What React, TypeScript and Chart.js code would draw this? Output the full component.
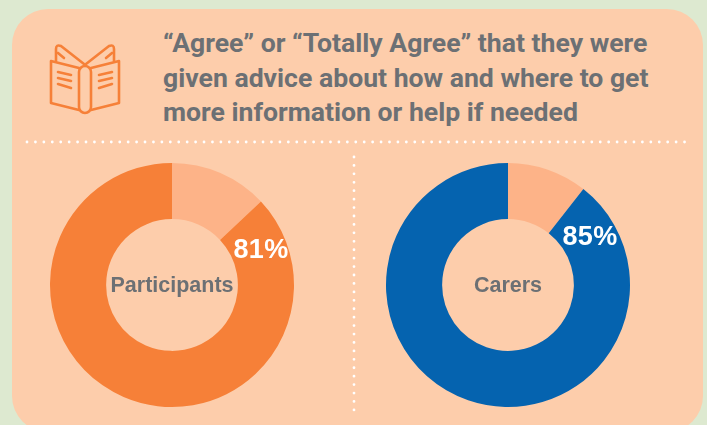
import React, { useEffect, useRef } from "react";
import { Chart, registerables } from "chart.js";

Chart.register(...registerables);

const titleLines = [
  "“Agree” or “Totally Agree” that they were",
  "given advice about how and where to get",
  "more information or help if needed",
];
const categories = ["Other", "Agree or Totally Agree"];
const participantsValues = [13, 87];
const carersValues = [10.6, 89.4];
const participantsColors = ["#FDB388", "#F68038"];
const carersColors = ["#FDB388", "#0563AF"];

const GREY = "#6C7074";

function makeLabelPlugin(center: string, pct: string, dx: number, dy: number) {
  return {
    id: "labels",
    afterDatasetsDraw(chart: any) {
      const meta = chart.getDatasetMeta(0).data[0];
      const { x, y } = meta;
      const ctx = chart.ctx;
      ctx.save();
      ctx.textAlign = "center";
      ctx.textBaseline = "middle";
      ctx.fillStyle = GREY;
      ctx.font = 'bold 21.5px "Liberation Sans"';
      ctx.fillText(center, x, y + 1);
      ctx.fillStyle = "#FFFFFF";
      ctx.font = 'bold 27px "Liberation Sans"';
      (ctx as any).letterSpacing = "0.3px";
      ctx.fillText(pct, x + dx, y + dy);
      ctx.restore();
    },
  };
}

function Donut({ left, values, colors, center, pct, dx, dy }: any) {
  const ref = useRef<HTMLCanvasElement>(null);
  useEffect(() => {
    const chart = new Chart(ref.current!, {
      type: "doughnut",
      data: {
        labels: categories,
        datasets: [{ data: values, backgroundColor: colors, borderWidth: 0 }],
      },
      options: {
        responsive: false,
        animation: false,
        cutout: "54%",
        layout: { padding: 28 },
        plugins: { legend: { display: false }, tooltip: { enabled: false } },
      },
      plugins: [makeLabelPlugin(center, pct, dx, dy)],
    } as any);
    return () => chart.destroy();
  }, []);
  return (
    <canvas
      ref={ref}
      width={300}
      height={300}
      style={{ position: "absolute", left, top: 135, width: 300, height: 300 }}
    />
  );
}

function BookIcon() {
  return (
    <svg
      width={707}
      height={425}
      style={{ position: "absolute", left: 0, top: 0 }}
      fill="none"
      stroke="#F68038"
      strokeWidth={2.6}
      strokeLinecap="round"
      strokeLinejoin="round"
    >
      <path d="M79 68 L51 61 L51 103 L79 110" />
      <path d="M91 68 L119 61 L119 103 L91 110" />
      <rect x={79} y={66} width={12} height={47} rx={6} />
      <path d="M56 61 L56 49 Q56 44 61 46 L84 64" />
      <path d="M114 61 L114 49 Q114 44 109 46 L86 64" />
      <path d="M58 53 L64 58 M112 53 L106 58" />
      <path d="M58 72 L71 75 M58 78 L71 81 M58 84 L71 88" />
      <path d="M99 75 L112 72 M99 81 L112 78 M99 88 L112 84" />
      <g stroke="#FFFFFF" strokeWidth={2.8} strokeDasharray="0 8.43">
        <path d="M27 142 L685 142" />
        <path d="M354 157 L354 416" />
      </g>
    </svg>
  );
}

export default function App() {
  useEffect(() => {
    document.body.style.margin = "0";
    document.body.style.overflow = "hidden";
  }, []);
  return (
    <div
      style={{
        position: "relative",
        width: 707,
        height: 425,
        overflow: "hidden",
        background: "#DDE9D0",
      }}
    >
      <div
        style={{
          position: "absolute",
          left: 12,
          top: 9,
          width: 691,
          height: 423,
          borderRadius: 36,
          background: "#FDCDAB",
        }}
      />
      <BookIcon />
      <div
        style={{
          position: "absolute",
          left: 163,
          top: 26,
          color: GREY,
          font: 'bold 26.6px/34.5px Roboto',
          whiteSpace: "nowrap",
        }}
      >
        {titleLines.map((l) => (
          <div key={l}>{l}</div>
        ))}
      </div>
      <Donut
        left={22}
        values={participantsValues}
        colors={participantsColors}
        center="Participants"
        pct="81%"
        dx={89}
        dy={-34}
      />
      <Donut
        left={358}
        values={carersValues}
        colors={carersColors}
        center="Carers"
        pct="85%"
        dx={82}
        dy={-47}
      />
    </div>
  );
}
